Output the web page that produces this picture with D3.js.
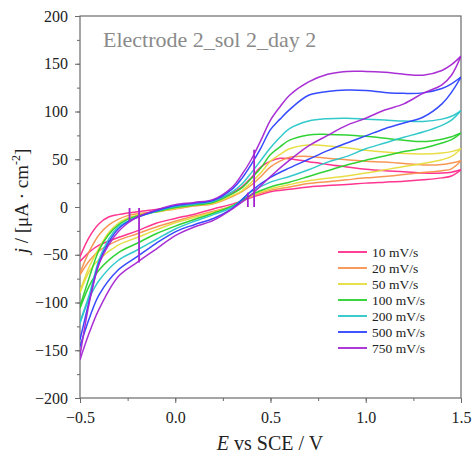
<!DOCTYPE html>
<html><head><meta charset="utf-8">
<script src="https://cdn.jsdelivr.net/npm/d3@7"></script>
<style>body{margin:0;background:#fff}svg{display:block}svg text{font-family:"Liberation Serif","DejaVu Serif",serif}</style>
</head><body>
<svg id="chart" width="475" height="458"></svg>
<script>
// ---- data ----
const rates = ["10 mV/s","20 mV/s","50 mV/s","100 mV/s","200 mV/s","500 mV/s","750 mV/s"];
const colors = ["#ff2a8a","#f7914c","#e6dc3c","#26d02a","#28c6c8","#2b40ff","#a424d2"];
const fwdE = [-0.5,-0.45,-0.4,-0.35,-0.3,-0.25,-0.2,-0.1,0,0.1,0.2,0.3,0.35,0.4,0.45,0.5,0.55,0.6,0.7,0.8,0.9,1.0,1.1,1.2,1.3,1.4,1.45,1.5];
const revE = [1.5,1.45,1.4,1.3,1.2,1.1,1.0,0.9,0.8,0.7,0.6,0.5,0.4,0.3,0.2,0.1,0,-0.1,-0.2,-0.3,-0.4,-0.45,-0.5];
const fwd10  = [-52,-31,-17.5,-10.5,-8,-6.3,-5,-2.5,0,2,6,15,21,31,42,48,51,50.5,47.5,44.5,42,39.5,38,37,35.5,35.5,36.5,39];
const fwd20  = [-69,-46,-29,-19,-13,-9,-7,-5,-2,1,3.5,11,16,23,32,42,48,52,53,51,49.5,48,47,45.5,44,44.5,46,48.5];
const fwd50  = [-88,-62,-43,-27,-17,-11.5,-8.5,-5,-1.5,1.5,4,12,17,26,36,48,55,61,65,64,62,59.5,57.5,56,55.5,56.5,58,61];
const fwd100 = [-104,-73,-45,-29,-19,-13,-9.5,-5,-0.5,2,5,14,20,30,41,55,63,70,75.5,76,75.5,74,72,70,68.5,71,73.5,77.5];
const fwd200 = [-120,-91,-55,-34,-21,-15,-10.5,-4.5,0.5,3,6,16,24,36,49,62,73,82,90,92.5,93,92,91,90,89.5,92,95,101];
const fwd500 = [-139,-97,-58,-37,-23,-15.5,-11,-4,1.5,4,7,19,30,45,62,81,92,102,117,121,122.5,122,120,119,119.5,124,129,136];
const fwd750 = [-156,-99,-60,-40,-26,-17,-10.5,-3,2.5,4.8,8,21,34,50,70,91,105,117,131,139,142,142,141,139,138,143,149,158];
const rev10  = [39,32.5,30.5,28.5,27,26,25,23.5,22.5,21,18.5,16,10,3,-2,-7.5,-12,-17,-25,-32,-40,-47,-57];
const rev20  = [48.5,40,38,36,34,32,30.5,28.5,26.5,24.5,21,17.5,11,1,-4.5,-9.5,-15,-21,-28,-35,-46,-56,-71];
const rev50  = [61,53,49.5,45.5,42.5,39,35.5,32.5,30,27.5,23.5,19,12,1,-5.5,-11,-16.5,-24,-32,-40,-55,-67,-90];
const rev100 = [77.5,70.5,67,61.5,58,53.5,49,44,38,32,26,21,13,1,-6.5,-13,-20,-28,-38,-48,-66,-82,-106];
const rev200 = [101,91,85.5,78.5,73,67,61,53,47,39,32,26,16,0,-8,-15,-23,-34,-45,-56,-77,-95,-122];
const rev500 = [136,120,108,94,88,82,74.5,67,59,50,41,31,17,-1.5,-12,-18.5,-26,-38,-52,-66,-92,-116,-146];
const rev750 = [158,138,128,119,108,101.5,93,85.5,75,64,49,32,13,-2,-14,-21,-30,-44,-58,-73,-107,-131,-160];
const forwardSeries = [fwd10,fwd20,fwd50,fwd100,fwd200,fwd500,fwd750];
const reverseSeries = [rev10,rev20,rev50,rev100,rev200,rev500,rev750];
// short vertical glitches visible in the 750 mV/s trace
const glitchE  = [-0.24,-0.19,0.381,0.414];
const glitchJ0 = [-1,-1,0,0];
const glitchJ1 = [-15,-58,15,60];
const xTicks = [-0.5,0.0,0.5,1.0,1.5];
const yTicks = [-200,-150,-100,-50,0,50,100,150,200];
const title = "Electrode 2_sol 2_day 2";

// ---- layout ----
const svg = d3.select("#chart");
const M = {l:80, r:461, t:16, b:398};
const x = d3.scaleLinear().domain([-0.5,1.5]).range([M.l,M.r]);
const y = d3.scaleLinear().domain([-200,200]).range([M.b,M.t]);
const font = '"Liberation Serif","DejaVu Serif",serif';
const axisCol = "#6a6a6a";

function styleText(sel, size, col){
  sel.style("font-family",font).style("font-size",size+"px").attr("fill",col);
}

// axes
const xMinor = d3.range(-0.5,1.5001,0.25);
const yMinor = d3.range(-200,200.01,25);
const gx = svg.append("g").attr("transform",`translate(0,${M.b})`);
gx.call(d3.axisBottom(x).tickValues(xMinor).tickSize(3).tickFormat("")).call(g=>g.select(".domain").remove());
gx.selectAll(".tick line").attr("stroke",axisCol);
const gx2 = svg.append("g").attr("transform",`translate(0,${M.b})`)
  .call(d3.axisBottom(x).tickValues(xTicks).tickSize(5).tickPadding(9).tickFormat(d3.format(".1f")));
gx2.attr("font-family",null).attr("font-size",null);
gx2.select(".domain").remove();
gx2.selectAll(".tick line").attr("stroke",axisCol);
styleText(gx2.selectAll("text"),16,"#222");

const gy = svg.append("g").attr("transform",`translate(${M.l},0)`);
gy.call(d3.axisLeft(y).tickValues(yMinor).tickSize(3).tickFormat("")).call(g=>g.select(".domain").remove());
gy.selectAll(".tick line").attr("stroke",axisCol);
const gy2 = svg.append("g").attr("transform",`translate(${M.l},0)`)
  .call(d3.axisLeft(y).tickValues(yTicks).tickSize(5).tickPadding(7).tickFormat(d3.format("d")));
gy2.attr("font-family",null).attr("font-size",null);
gy2.select(".domain").remove();
gy2.selectAll(".tick line").attr("stroke",axisCol);
styleText(gy2.selectAll("text"),16,"#222");

// frame
svg.append("rect").attr("x",M.l).attr("y",M.t).attr("width",M.r-M.l).attr("height",M.b-M.t)
  .attr("fill","none").attr("stroke",axisCol).attr("stroke-width",1.2);

// curves
const line = d3.line().x(d=>x(d[0])).y(d=>y(d[1])).curve(d3.curveCatmullRom.alpha(0.5));
svg.append("clipPath").attr("id","clip").append("rect")
  .attr("x",M.l).attr("y",M.t).attr("width",M.r-M.l).attr("height",M.b-M.t);
const gc = svg.append("g").attr("clip-path","url(#clip)");
rates.forEach((r,i)=>{
  const f = fwdE.map((e,k)=>[e,forwardSeries[i][k]]);
  const b = revE.map((e,k)=>[e,reverseSeries[i][k]]);
  [f,b].forEach(pts=>{
    gc.append("path").attr("d",line(pts)).attr("fill","none")
      .attr("stroke",colors[i]).attr("stroke-width",1.5).attr("stroke-opacity",0.95);
  });
});
glitchE.forEach((e,k)=>{
  gc.append("line").attr("x1",x(e)).attr("x2",x(e)).attr("y1",y(glitchJ0[k])).attr("y2",y(glitchJ1[k]))
    .attr("stroke",colors[6]).attr("stroke-width",1.8);
});

// title
styleText(svg.append("text").attr("x",103).attr("y",47).text(title),22,"#8a8a8a");

// legend
const lg = svg.append("g");
rates.forEach((r,i)=>{
  const yy = 252 + i*16;
  lg.append("line").attr("x1",338).attr("x2",367).attr("y1",yy).attr("y2",yy)
    .attr("stroke",colors[i]).attr("stroke-width",1.8);
  styleText(lg.append("text").attr("x",372).attr("y",yy+4.5).text(r),13.5,"#222");
});

// axis titles
const xl = svg.append("text").attr("x",270).attr("y",450).attr("text-anchor","middle");
styleText(xl,20,"#222");
xl.append("tspan").style("font-style","italic").text("E");
xl.append("tspan").text(" vs SCE / V");
const yl = svg.append("text").attr("transform","translate(28,201) rotate(-90)").attr("text-anchor","middle");
styleText(yl,19,"#222");
yl.append("tspan").style("font-style","italic").text("j");
yl.append("tspan").text(" /  [μA · cm");
yl.append("tspan").style("font-size","12px").attr("dy",-8).text("-2");
yl.append("tspan").attr("dy",8).text("]");
</script>
</body></html>
